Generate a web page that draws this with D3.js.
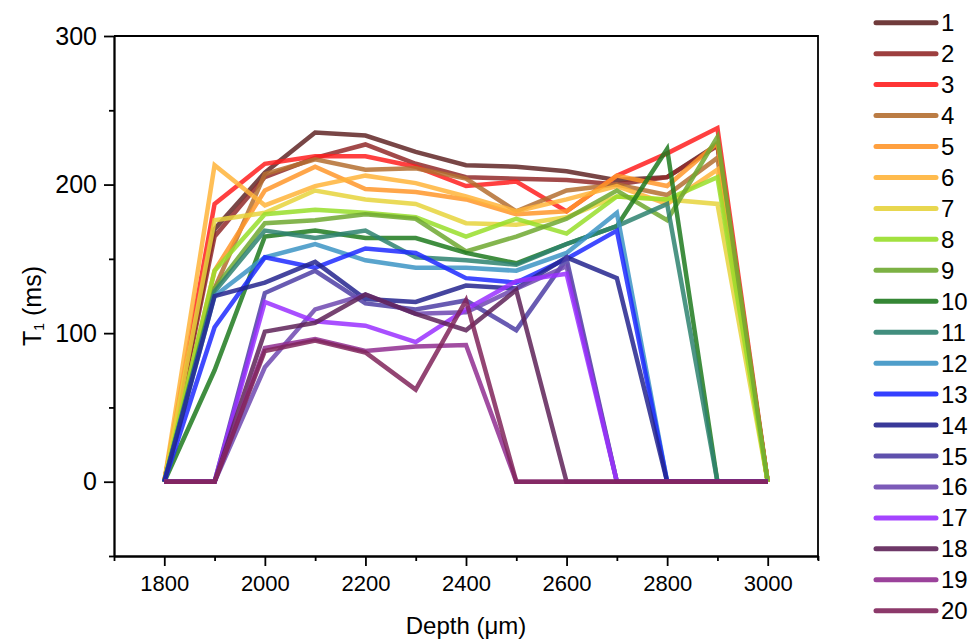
<!DOCTYPE html>
<html>
<head>
<meta charset="utf-8">
<script src="https://cdn.jsdelivr.net/npm/d3@7"></script>
<style>
  body { margin: 0; background: #fff; }
  text { font-family: Arial, "Liberation Sans", sans-serif; fill: #000; }
</style>
</head>
<body>
<svg id="theSvg"></svg>
<script>
// depth positions (µm)
const depths = [1800, 1900, 2000, 2100, 2200, 2300, 2400, 2500, 2600, 2700, 2800, 2900, 3000];

// T1 values (ms) per series
const s1  = [0, 170, 208, 235, 233, 222, 213, 212, 209, 203, 205, 227, 0];
const s2  = [0, 165, 205, 218, 227, 214, 205, 204, 203, 200, 205, 226, 0];
const s3  = [0, 187, 214, 219, 219, 212, 199, 202, 182, 206, 221, 238, 0];
const s4  = [0, 130, 207, 217, 210, 211, 204, 182, 196, 200, 193, 218, 0];
const s5  = [0, 142, 196, 212, 197, 195, 190, 180, 182, 206, 199, 228, 0];
const s6  = [0, 213, 186, 199, 206, 201, 192, 182, 190, 199, 187, 210, 0];
const s7  = [0, 176, 181, 196, 190, 187, 174, 173, 178, 192, 190, 187, 0];
const s8  = [0, 142, 180, 183, 181, 178, 165, 177, 167, 192, 190, 205, 0];
const s9  = [0, 130, 174, 176, 180, 177, 155, 165, 177, 196, 176, 232, 0];
const s10 = [0, 75, 165, 169, 164, 164, 154, 147, 160, 172, 224, 0, 0];
const s11 = [0, 128, 169, 164, 169, 151, 149, 146, 160, 172, 187, 0, 0];
const s12 = [0, 125, 151, 160, 149, 144, 144, 142, 154, 181, 0, 0, 0];
const s13 = [0, 104, 151, 144, 157, 154, 137, 134, 150, 169, 0, 0, 0];
const s14 = [0, 125, 134, 148, 123, 121, 132, 130, 151, 137, 0, 0, 0];
const s15 = [0, 0, 127, 142, 120, 116, 122, 102, 150, 0, 0, 0, 0];
const s16 = [0, 0, 77, 116, 126, 113, 114, 130, 145, 0, 0, 0, 0];
const s17 = [0, 0, 121, 108, 105, 94, 116, 135, 140, 0, 0, 0, 0];
const s18 = [0, 0, 101, 107, 126, 113, 102, 129, 0, 0, 0, 0, 0];
const s19 = [0, 0, 90, 96, 88, 91, 92, 0, 0, 0, 0, 0, 0];
const s20 = [0, 0, 88, 95, 87, 62, 122, 0, 0, 0, 0, 0, 0];

const seriesValues = [s1, s2, s3, s4, s5, s6, s7, s8, s9, s10,
                      s11, s12, s13, s14, s15, s16, s17, s18, s19, s20];
const seriesNames = d3.range(1, 21).map(String);
const seriesColors = [
  "#602626", "#922a2a", "#ff1f1f", "#b46e30", "#ff962a",
  "#ffb43a", "#e6d33c", "#98de2a", "#6ea830", "#1f7a1f",
  "#2e8270", "#3c94c4", "#1e2aff", "#24248e", "#4e3ea4",
  "#6e48b0", "#9a30ff", "#5e2258", "#902e90", "#80245a"
];

const xMajor = [1800, 2000, 2200, 2400, 2600, 2800, 3000];
const xMinor = [1700, 1900, 2100, 2300, 2500, 2700, 2900, 3100];
const yMajor = [0, 100, 200, 300];
const yMinor = [-50, 50, 150, 250];

const width = 980, height = 642;
const margin = {top: 36, right: 162, bottom: 86, left: 114};

const svg = d3.select("#theSvg")
  .attr("width", width)
  .attr("height", height)
  .attr("viewBox", [0, 0, width, height]);

const x = d3.scaleLinear()
  .domain([1700, 3100])
  .range([margin.left, width - margin.right]);

const y = d3.scaleLinear()
  .domain([-50, 300])
  .range([height - margin.bottom, margin.top]);

// lines
const line = d3.line()
  .x((d, i) => x(depths[i]))
  .y(d => y(d));

svg.append("g")
  .attr("class", "lines")
  .attr("fill", "none")
  .attr("stroke-width", 4.5)
  .attr("stroke-linejoin", "miter")
  .attr("stroke-linecap", "butt")
  .selectAll("path")
  .data(seriesValues)
  .join("path")
    .attr("stroke", (d, i) => seriesColors[i])
    .attr("stroke-opacity", 0.85)
    .attr("d", d => line(d));

// frame (top and right)
svg.append("path")
  .attr("fill", "none")
  .attr("stroke", "#000")
  .attr("stroke-width", 1.8)
  .attr("d", d3.line()([
    [x.range()[0], y(300)], [x.range()[1], y(300)], [x.range()[1], y(-50) + 4]
  ]));

// axes
const axisBottomY = y(-50);
const xAxis = svg.append("g")
  .attr("transform", "translate(0," + axisBottomY + ")");
xAxis.append("g")
  .call(d3.axisBottom(x).tickValues(xMinor).tickSize(5).tickFormat("").tickSizeOuter(0));
xAxis.append("g")
  .call(d3.axisBottom(x).tickValues(xMajor).tickSize(10).tickPadding(9)
    .tickFormat(d3.format("d")).tickSizeOuter(0))
  .call(g => g.selectAll("text").attr("font-size", 22));

const yAxis = svg.append("g")
  .attr("transform", "translate(" + margin.left + ",0)");
yAxis.append("g")
  .call(d3.axisLeft(y).tickValues(yMinor).tickSize(5).tickFormat("").tickSizeOuter(0));
yAxis.append("g")
  .call(d3.axisLeft(y).tickValues(yMajor).tickSize(10).tickPadding(7)
    .tickFormat(d3.format("d")).tickSizeOuter(0))
  .call(g => g.selectAll("text").attr("font-size", 25));

svg.selectAll(".domain, .tick line")
  .attr("stroke", "#000")
  .attr("stroke-width", 1.8);

// axis titles
svg.append("text")
  .attr("x", (x.range()[0] + x.range()[1]) / 2)
  .attr("y", 628)
  .attr("text-anchor", "middle")
  .attr("dominant-baseline", "middle")
  .attr("font-size", 24)
  .text("Depth (\u03bcm)");

const yTitle = svg.append("text")
  .attr("transform", "translate(34," + 306 + ") rotate(-90)")
  .attr("text-anchor", "middle")
  .attr("dominant-baseline", "middle")
  .attr("font-size", 25);
yTitle.append("tspan").text("T");
yTitle.append("tspan").attr("font-size", 14).attr("dy", 6).text("1");
yTitle.append("tspan").attr("dy", -6).text(" (ms)");

// legend
const legend = svg.append("g")
  .attr("class", "legend")
  .selectAll("g")
  .data(seriesNames)
  .join("g")
    .attr("transform", (d, i) => "translate(876," + (22.7 + i * 30.95) + ")");

legend.append("line")
  .attr("x1", 0).attr("x2", 60)
  .attr("stroke", (d, i) => seriesColors[i])
  .attr("stroke-opacity", 0.9)
  .attr("stroke-width", 5)
  .attr("stroke-linecap", "round");

legend.append("text")
  .attr("x", 65)
  .attr("dominant-baseline", "central")
  .attr("font-size", 24)
  .text(d => d);
</script>
</body>
</html>
